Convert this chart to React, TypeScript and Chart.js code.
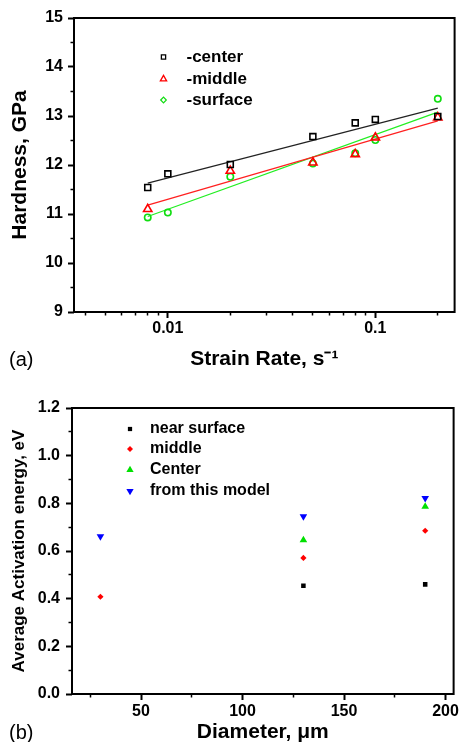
import React, { useEffect, useRef } from "react";
import { Chart, registerables } from "chart.js";
import { drawPoint } from "chart.js/helpers";

Chart.register(...registerables);

const FONT = '"Liberation Sans", Arial, Helvetica, sans-serif';

// ---------- Panel (a): hardness vs strain rate ----------
const strainRates = [0.008, 0.01, 0.02, 0.05, 0.08, 0.1, 0.2];
const hardnessCenter = [11.54, 11.82, 12.01, 12.58, 12.86, 12.93, 12.99];
const middleRates = [0.008, 0.02, 0.05, 0.08, 0.1, 0.2];
const hardnessMiddle = [11.1, 11.88, 12.05, 12.22, 12.56, 12.97];
const hardnessSurface = [10.93, 11.03, 11.76, 12.03, 12.24, 12.51, 13.35];
const fitRates = [0.008, 0.2];
const fitCenter = [11.63, 13.16];
const fitMiddle = [11.18, 12.9];
const fitSurface = [10.95, 13.08];
const labelsA = ["-center", "-middle", "-surface"];
const xMajorTicksA = [0.01, 0.1];
const xMinorTicksA = [0.004, 0.005, 0.006, 0.007, 0.008, 0.009, 0.02, 0.03, 0.04, 0.05, 0.06, 0.07, 0.08, 0.09, 0.2];
const yMajorTicksA = [9, 10, 11, 12, 13, 14, 15];
const yMinorTicksA = [9.5, 10.5, 11.5, 12.5, 13.5, 14.5];

// ---------- Panel (b): activation energy vs diameter ----------
const diameterSurface = [130, 190];
const energySurface = [0.454, 0.46];
const diameterMiddle = [30, 130, 190];
const energyMiddle = [0.408, 0.571, 0.685];
const diameterCenter = [130, 190];
const energyCenter = [0.646, 0.786];
const diameterModel = [30, 130, 190];
const energyModel = [0.661, 0.745, 0.822];
const labelsB = ["near surface", "middle", "Center", "from this model"];
const xMajorTicksB = [50, 100, 150, 200];
const xMinorTicksB = [25, 75, 125, 175];
const yMajorTicksB = [0, 0.2, 0.4, 0.6, 0.8, 1.0, 1.2];
const yMinorTicksB = [0.1, 0.3, 0.5, 0.7, 0.9, 1.1];

const pts = (xs: number[], ys: number[]) => xs.map((x, i) => ({ x, y: ys[i] }));
const setTicks = (vals: number[]) => (s: any) => {
  s.ticks = vals.map((v) => ({ value: v }));
};

const frameAndNotes = {
  id: "frameAndNotes",
  beforeDatasetsDraw(chart: any) {
    const { ctx, chartArea: a } = chart;
    ctx.save();
    ctx.strokeStyle = "#000";
    ctx.lineWidth = 2;
    ctx.strokeRect(a.left, a.top, a.right - a.left, a.bottom - a.top);
    ctx.restore();
  },
  afterDraw(chart: any, _args: any, opts: any) {
    const { ctx, chartArea: a } = chart;
    ctx.save();
    ctx.textBaseline = "middle";
    ctx.textAlign = "left";
    (opts.items || []).forEach((it: any, i: number) => {
      const ds = chart.data.datasets[it.dataset];
      const y = a.top + opts.rows[i];
      ctx.fillStyle = it.fill;
      ctx.strokeStyle = ds.borderColor;
      ctx.lineWidth = it.lineWidth;
      drawPoint(
        ctx,
        { pointStyle: it.style, rotation: it.rotation || 0, radius: it.radius, borderWidth: it.lineWidth },
        a.left + opts.markerX,
        y
      );
      ctx.fillStyle = "#000";
      ctx.font = `bold ${opts.fontSize}px ${FONT}`;
      ctx.fillText(ds.label, a.left + opts.textX, y);
    });
    ctx.font = `normal 20px ${FONT}`;
    ctx.fillStyle = "#000";
    ctx.fillText(opts.panel, opts.panelX, opts.panelY);
    ctx.restore();
  },
};

const tickFont = { size: 16, weight: "bold" as const, family: FONT };
const titleFont = (size: number, lh = 1.2) => ({ size, weight: "bold" as const, family: FONT, lineHeight: lh });

function majorGrid() {
  return { drawOnChartArea: false, tickLength: 6, tickWidth: 2, tickColor: "#000" };
}
function minorGrid() {
  return { drawOnChartArea: false, tickLength: 3.5, tickWidth: 1.5, tickColor: "#000" };
}

function configA(): any {
  const xmin = 0.00353;
  const xmax = 0.241;
  return {
    type: "scatter",
    data: {
      datasets: [
        {
          label: labelsA[0],
          data: pts(strainRates, hardnessCenter),
          pointStyle: "rect",
          pointRadius: 4.2,
          borderColor: "#000",
          backgroundColor: "rgba(255,255,255,0)",
          borderWidth: 1.6,
        },
        {
          label: labelsA[1],
          data: pts(middleRates, hardnessMiddle),
          pointStyle: "triangle",
          pointRadius: 4.8,
          borderColor: "#ff0000",
          backgroundColor: "rgba(255,255,255,0)",
          borderWidth: 1.6,
        },
        {
          label: labelsA[2],
          data: pts(strainRates, hardnessSurface),
          pointStyle: "circle",
          pointRadius: 3.2,
          borderColor: "#11dd11",
          backgroundColor: "rgba(255,255,255,0)",
          borderWidth: 1.6,
        },
        {
          label: "fit center",
          data: pts(fitRates, fitCenter),
          showLine: true,
          pointRadius: 0,
          borderColor: "#222",
          borderWidth: 1.2,
        },
        {
          label: "fit middle",
          data: pts(fitRates, fitMiddle),
          showLine: true,
          pointRadius: 0,
          borderColor: "#ff2020",
          borderWidth: 1.2,
        },
        {
          label: "fit surface",
          data: pts(fitRates, fitSurface),
          showLine: true,
          pointRadius: 0,
          borderColor: "#22ee22",
          borderWidth: 1.2,
        },
      ],
    },
    options: {
      responsive: false,
      animation: false,
      events: [],
      layout: { padding: { top: 18, right: 5, left: 0, bottom: 0 } },
      plugins: {
        legend: { display: false },
        tooltip: { enabled: false },
        frameAndNotes: {
          items: [
            { dataset: 0, style: "rect", radius: 3, lineWidth: 1.3, fill: "#fff" },
            { dataset: 1, style: "triangle", radius: 3.6, lineWidth: 1.3, fill: "#fff" },
            { dataset: 2, style: "rectRot", radius: 2.8, lineWidth: 1.2, fill: "#fff" },
          ],
          rows: [39, 61, 82],
          markerX: 89.5,
          textX: 112.5,
          fontSize: 17,
          panel: "(a)",
          panelX: 9,
          panelY: 360,
        },
      },
      scales: {
        x: {
          type: "logarithmic",
          position: "bottom",
          weight: 1,
          min: xmin,
          max: xmax,
          afterBuildTicks: setTicks(xMajorTicksA),
          afterFit: (s: any) => {
            s.height = 68;
          },
          ticks: {
            callback: (v: any) => String(v),
            font: tickFont,
            color: "#000",
            padding: 1,
            maxRotation: 0,
            autoSkip: false,
          },
          grid: majorGrid(),
          border: { display: false },
          title: {
            display: true,
            text: "Strain Rate, s\u207B\u00B9",
            font: titleFont(21),
            color: "#000",
            padding: { top: 0, bottom: 8 },
          },
        },
        xm: {
          type: "logarithmic",
          position: "bottom",
          weight: 0,
          min: xmin,
          max: xmax,
          afterBuildTicks: setTicks(xMinorTicksA),
          afterFit: (s: any) => {
            s.height = 0;
          },
          ticks: { display: false },
          grid: minorGrid(),
          border: { display: false },
        },
        y: {
          position: "left",
          weight: 1,
          min: 9,
          max: 15,
          afterBuildTicks: setTicks(yMajorTicksA),
          afterFit: (s: any) => {
            s.width = 74;
          },
          ticks: { font: tickFont, color: "#000", padding: 5 },
          grid: majorGrid(),
          border: { display: false },
          title: {
            display: true,
            text: "Hardness, GPa",
            font: titleFont(21),
            color: "#000",
            padding: { top: 8, bottom: 0 },
          },
        },
        ym: {
          position: "left",
          weight: 0,
          min: 9,
          max: 15,
          afterBuildTicks: setTicks(yMinorTicksA),
          afterFit: (s: any) => {
            s.width = 0;
          },
          ticks: { display: false },
          grid: minorGrid(),
          border: { display: false },
        },
      },
    },
    plugins: [frameAndNotes],
  };
}

function configB(): any {
  const xmin = 16;
  const xmax = 204;
  return {
    type: "scatter",
    data: {
      datasets: [
        {
          label: labelsB[0],
          data: pts(diameterSurface, energySurface),
          pointStyle: "rect",
          pointRadius: 3.2,
          borderColor: "#000",
          backgroundColor: "#000",
          borderWidth: 0,
        },
        {
          label: labelsB[1],
          data: pts(diameterMiddle, energyMiddle),
          pointStyle: "rectRot",
          pointRadius: 3.1,
          borderColor: "#ff0000",
          backgroundColor: "#ff0000",
          borderWidth: 0,
        },
        {
          label: labelsB[2],
          data: pts(diameterCenter, energyCenter),
          pointStyle: "triangle",
          pointRadius: 4.4,
          borderColor: "#00e000",
          backgroundColor: "#00e000",
          borderWidth: 0,
        },
        {
          label: labelsB[3],
          data: pts(diameterModel, energyModel),
          pointStyle: "triangle",
          rotation: 180,
          pointRadius: 4.4,
          borderColor: "#0000ff",
          backgroundColor: "#0000ff",
          borderWidth: 0,
        },
      ],
    },
    options: {
      responsive: false,
      animation: false,
      events: [],
      layout: { padding: { top: 28, right: 5, left: 0, bottom: 0 } },
      plugins: {
        legend: { display: false },
        tooltip: { enabled: false },
        frameAndNotes: {
          items: [
            { dataset: 0, style: "rect", radius: 3, lineWidth: 0, fill: "#000" },
            { dataset: 1, style: "rectRot", radius: 3, lineWidth: 0, fill: "#ff0000" },
            { dataset: 2, style: "triangle", radius: 4.2, lineWidth: 0, fill: "#00e000" },
            { dataset: 3, style: "triangle", rotation: 180, radius: 4.2, lineWidth: 0, fill: "#0000ff" },
          ],
          rows: [21, 41, 62, 83],
          markerX: 58,
          textX: 78,
          fontSize: 16,
          panel: "(b)",
          panelX: 9,
          panelY: 353,
        },
      },
      scales: {
        x: {
          type: "linear",
          position: "bottom",
          weight: 1,
          min: xmin,
          max: xmax,
          afterBuildTicks: setTicks(xMajorTicksB),
          afterFit: (s: any) => {
            s.height = 48;
          },
          ticks: { font: tickFont, color: "#000", padding: 2, maxRotation: 0, autoSkip: false },
          grid: majorGrid(),
          border: { display: false },
          title: {
            display: true,
            text: "Diameter, \u03BCm",
            font: titleFont(21, 0.9),
            color: "#000",
            padding: { top: 0, bottom: 0 },
          },
        },
        xm: {
          type: "linear",
          position: "bottom",
          weight: 0,
          min: xmin,
          max: xmax,
          afterBuildTicks: setTicks(xMinorTicksB),
          afterFit: (s: any) => {
            s.height = 0;
          },
          ticks: { display: false },
          grid: minorGrid(),
          border: { display: false },
        },
        y: {
          position: "left",
          weight: 1,
          min: 0,
          max: 1.2,
          afterBuildTicks: setTicks(yMajorTicksB),
          afterFit: (s: any) => {
            s.width = 72;
          },
          ticks: {
            font: tickFont,
            color: "#000",
            padding: 6,
            callback: (v: any) => Number(v).toFixed(1),
          },
          grid: majorGrid(),
          border: { display: false },
          title: {
            display: true,
            text: "Average Activation energy, eV",
            font: titleFont(17),
            color: "#000",
            padding: { top: 9, bottom: 0 },
          },
        },
        ym: {
          position: "left",
          weight: 0,
          min: 0,
          max: 1.2,
          afterBuildTicks: setTicks(yMinorTicksB),
          afterFit: (s: any) => {
            s.width = 0;
          },
          ticks: { display: false },
          grid: minorGrid(),
          border: { display: false },
        },
      },
    },
    plugins: [frameAndNotes],
  };
}

function ChartCanvas({ make, top, height }: { make: () => any; top: number; height: number }) {
  const ref = useRef<HTMLCanvasElement | null>(null);
  useEffect(() => {
    if (!ref.current) return;
    const chart = new Chart(ref.current, make());
    return () => chart.destroy();
  }, [make]);
  return (
    <canvas
      ref={ref}
      width={461}
      height={height}
      style={{ position: "absolute", left: 0, top, width: 461, height, display: "block" }}
    />
  );
}

export default function App() {
  return (
    <div style={{ position: "absolute", left: 0, top: 0, width: 461, height: 742, background: "#fff", overflow: "hidden" }}>
      <ChartCanvas make={configA} top={0} height={380} />
      <ChartCanvas make={configB} top={380} height={362} />
    </div>
  );
}
